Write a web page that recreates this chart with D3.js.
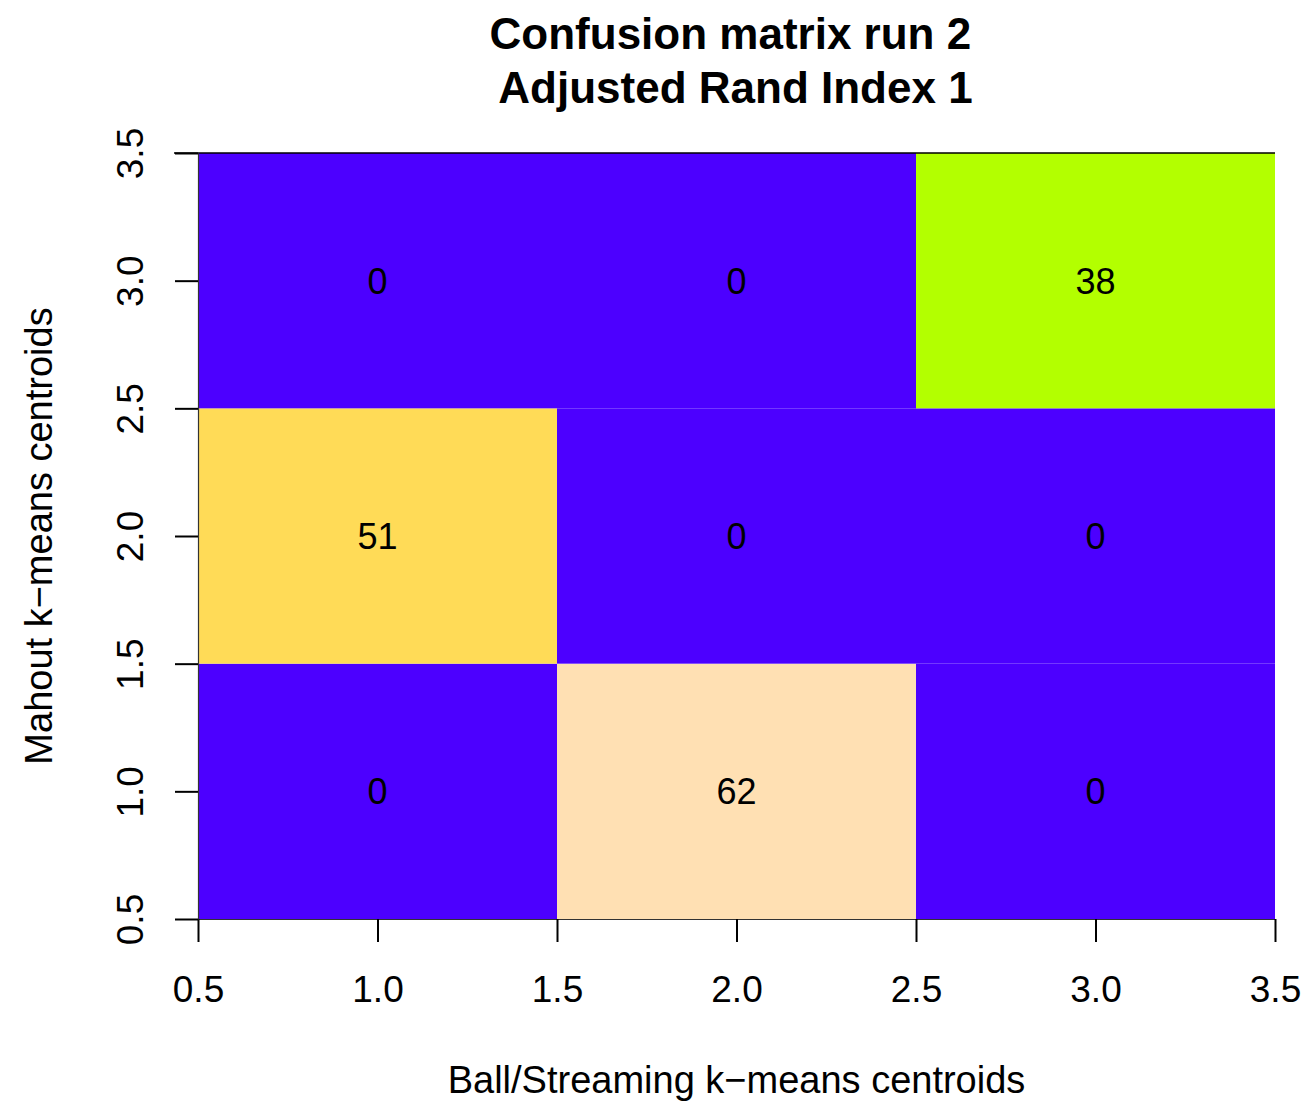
<!DOCTYPE html>
<html>
<head>
<meta charset="utf-8">
<script src="https://cdn.jsdelivr.net/npm/d3@7"></script>
<style>
  body { margin: 0; background: #fff; }
  text { font-family: "Liberation Sans", Arial, Helvetica, sans-serif; }
</style>
</head>
<body>
<svg></svg>
<script>
const w = 1309;
const h = 1102;

// data: rows are Mahout centroids (y = 1..3), columns are Ball/Streaming centroids (x = 1..3)
const xCats = [1, 2, 3];
const yCats = [1, 2, 3];
const counts = [
    [0, 62, 0],  // y = 1
    [51, 0, 0],  // y = 2
    [0, 0, 38]   // y = 3
];
const tickVals = [0.5, 1.0, 1.5, 2.0, 2.5, 3.0, 3.5];
const colorValues = [0, 38, 51, 62];
const colorList = ['#4c00ff', '#b3ff00', '#ffdb57', '#ffe0b3'];

const padL = 198, padR = 1275, padT = 153, padB = 919;

const svg = d3.select('svg').attr('width', w).attr('height', h);

const xScale = d3.scaleLinear().domain([0.5, 3.5]).range([padL, padR]);
const yScale = d3.scaleLinear().domain([0.5, 3.5]).range([padB, padT]);
const color = d3.scaleOrdinal().domain(colorValues).range(colorList);

// flatten the matrix into cells
const cells = [];
yCats.forEach((yv, i) => {
    xCats.forEach((xv, j) => {
        cells.push({ x: xv, y: yv, v: counts[i][j] });
    });
});

svg.append('g')
    .selectAll('rect')
    .data(cells)
    .enter()
    .append('rect')
    .attr('x', (d) => xScale(d.x - 0.5))
    .attr('y', (d) => yScale(d.y + 0.5))
    .attr('width', (d) => xScale(d.x + 0.5) - xScale(d.x - 0.5))
    .attr('height', (d) => yScale(d.y - 0.5) - yScale(d.y + 0.5))
    .attr('fill', (d) => color(d.v));

svg.append('g')
    .selectAll('text')
    .data(cells)
    .enter()
    .append('text')
    .attr('x', (d) => xScale(d.x))
    .attr('y', (d) => yScale(d.y))
    .attr('dy', '0.36em')
    .attr('text-anchor', 'middle')
    .style('font-size', '36px')
    .text((d) => d.v);

// top edge line
svg.append('line')
    .attr('x1', padL - 24).attr('x2', padR)
    .attr('y1', padT).attr('y2', padT)
    .attr('stroke', '#000').attr('stroke-width', 1.5);

// axes
const xAxis = d3.axisBottom(xScale)
    .tickValues(tickVals)
    .tickFormat(d3.format('.1f'))
    .tickSize(23)
    .tickSizeOuter(0);
const yAxis = d3.axisLeft(yScale)
    .tickValues(tickVals)
    .tickFormat(d3.format('.1f'))
    .tickSize(23)
    .tickSizeOuter(0);

const gx = svg.append('g')
    .attr('transform', 'translate(0,' + padB + ')')
    .call(xAxis);
gx.selectAll('text')
    .attr('y', 83)
    .attr('dy', null)
    .attr('fill', '#000')
    .style('font-size', '37px');

const gy = svg.append('g')
    .attr('transform', 'translate(' + padL + ',0)')
    .call(yAxis);
gy.selectAll('text')
    .attr('transform', 'rotate(-90)')
    .attr('x', 0)
    .attr('y', -55)
    .attr('dy', null)
    .attr('text-anchor', 'middle')
    .attr('fill', '#000')
    .style('font-size', '37px');

[gx, gy].forEach((g) => {
    g.attr('font-family', null).attr('font-size', null);
    g.selectAll('line').attr('stroke', '#000').attr('stroke-width', 2);
    g.select('.domain').attr('stroke', '#333').attr('stroke-width', 1.2);
});

// titles
const title = svg.append('text')
    .attr('text-anchor', 'middle')
    .style('font-size', '44px')
    .style('font-weight', 'bold')
    .style('white-space', 'pre');
title.append('tspan').attr('x', (padL + padR) / 2).attr('y', 49).text('Confusion matrix run 2 ');
title.append('tspan').attr('x', (padL + padR) / 2 - 1).attr('y', 103).text('Adjusted Rand Index 1');

svg.append('text')
    .attr('x', (padL + padR) / 2)
    .attr('y', 1093)
    .attr('text-anchor', 'middle')
    .style('font-size', '38px')
    .text('Ball/Streaming k\u2212means centroids');

svg.append('text')
    .attr('transform', 'translate(52,' + (padT + padB) / 2 + ') rotate(-90)')
    .attr('text-anchor', 'middle')
    .style('font-size', '38px')
    .text('Mahout k\u2212means centroids');
</script>
</body>
</html>
